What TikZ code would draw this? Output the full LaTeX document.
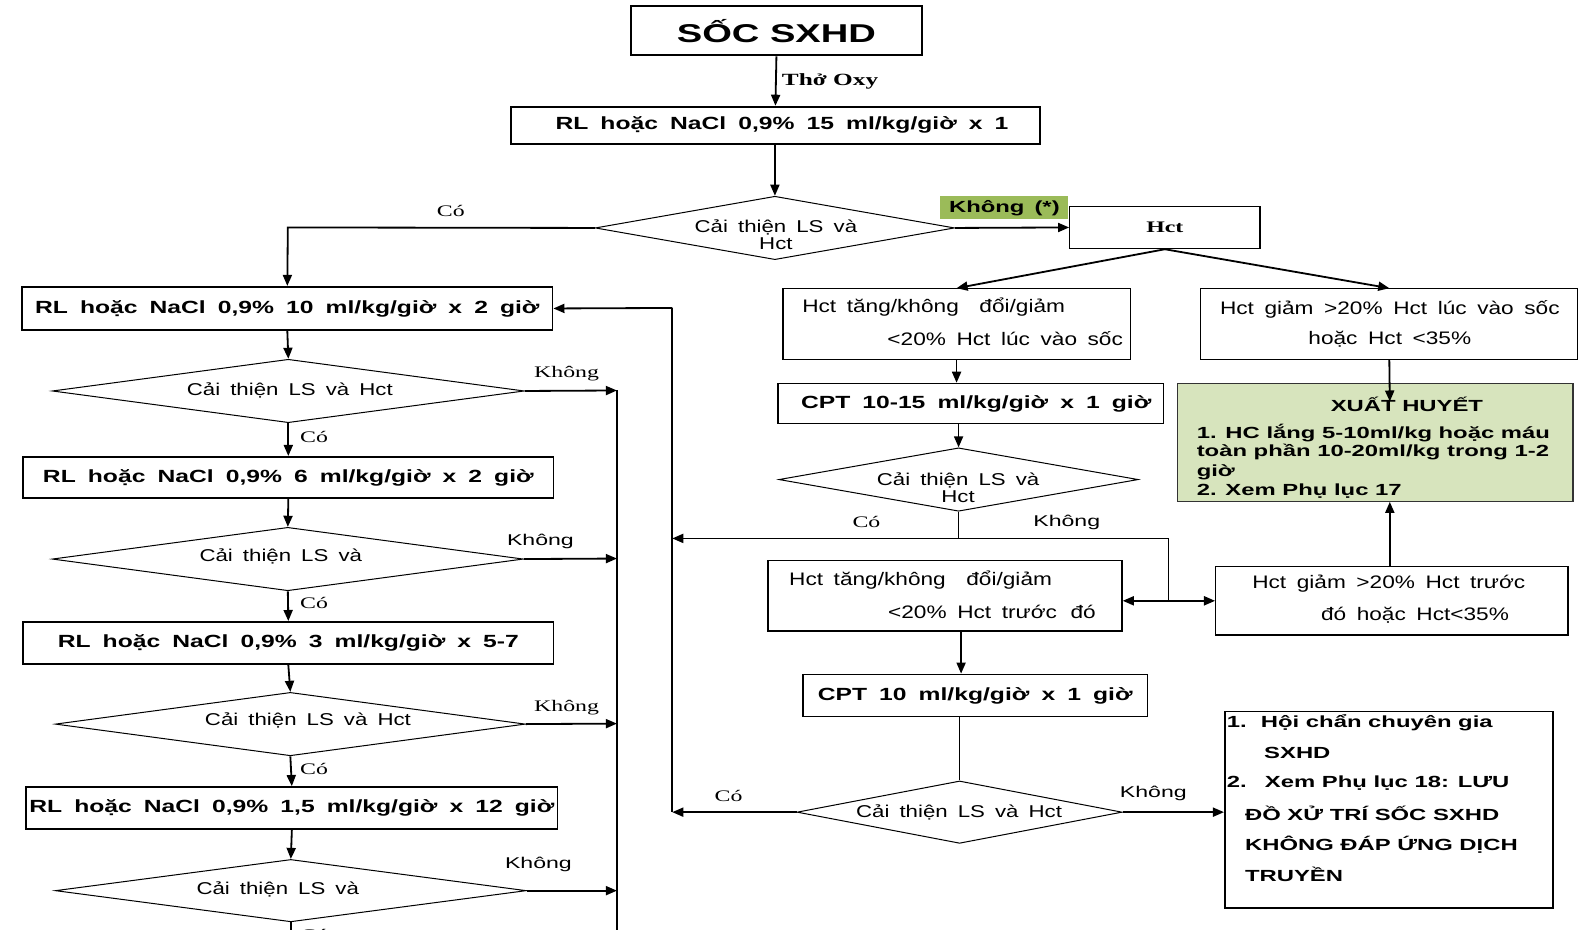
\documentclass[tikz,border=0pt]{standalone}
\usepackage{fontspec}
\setmainfont{Liberation Sans}
\newfontfamily\snn{Liberation Sans}[FakeStretch=1.48]
\newfontfamily\bxf{Liberation Sans}[FakeStretch=1.4]
\newfontfamily\dtf{Liberation Sans}[FakeStretch=1.3]
\newfontfamily\rgf{Liberation Sans}[FakeStretch=1.25]
\newfontfamily\sr{Liberation Serif}[FakeStretch=1.48]
\usetikzlibrary{shapes.geometric,arrows.meta}
\definecolor{lightgreen}{HTML}{D7E4BD}
\definecolor{midgreen}{HTML}{9BBB59}
\newcommand{\boxfont}{\bxf\bfseries\fontsize{17.5}{20}\selectfont\spaceskip=12pt plus 1pt minus 1pt\relax}
\newcommand{\diafont}{\dtf\fontsize{17}{17}\selectfont\spaceskip=10pt plus 1pt minus 1pt\relax}
\newcommand{\regfont}{\rgf\fontsize{18}{20}\selectfont\spaceskip=10.5pt plus 1pt minus 1pt\relax}
\tikzset{
  box/.style={draw, line width=1.8pt, inner sep=0pt, font=\boxfont},
  tbox/.style={draw, line width=1.3pt, inner sep=0pt},
  dia/.style={draw, diamond, line width=1pt, inner sep=0pt},
  dtxt/.style={font=\diafont, inner sep=0pt, align=center},
  rtxt/.style={font=\regfont, inner sep=0pt},
  lbl/.style={font=\sr\fontsize{16}{18}\selectfont, inner sep=0pt},
  slbl/.style={font=\snn\fontsize{15.5}{18}\selectfont, inner sep=0pt},
  ftxt/.style={font=\snn\bfseries\fontsize{16}{18}\selectfont, inner sep=0pt, anchor=west},
  arr/.style={line width=1.8pt, -{Triangle[length=11pt,width=9pt]}},
  ln/.style={line width=1.8pt},
}
\begin{document}
\begin{tikzpicture}[x=1pt,y=-1pt]
\useasboundingbox (0,0) rectangle (1568,924);

% ---------- top ----------
\node[box, minimum width=289, minimum height=49, font=\snn\bfseries\fontsize{25.6}{28}\selectfont] (soc) at (771.5,30.5) {SỐC SXHD};
\node[box, minimum width=525, minimum height=37] (rl15) at (770.5,124.5) {\hspace{13pt}RL hoặc NaCl 0,9\% 15 ml/kg/giờ x 1};
\begin{scope}
\clip (508,106) rectangle (1033,142);
\node[font=\boxfont, inner sep=0pt] (gio) at (580,151) {giờ};
\end{scope}
\draw[arr] (soc.south) -- (rl15.north) node[pos=0.5, right=5pt, font=\sr\bfseries\fontsize{17}{19}\selectfont, inner sep=0pt] (oxy) {Thở Oxy};

\node[dia, minimum width=357, minimum height=63] (d1) at (770,226.5) {};
\node[dtxt] (d1t) at (771,233) {Cải thiện LS và\\Hct};
\draw[arr] (rl15.south -| d1.north) -- (d1.north);

% ---------- left column ----------
\node[box, minimum width=527, minimum height=43] (rl10) at (285.5,306.5) {RL hoặc NaCl 0,9\% 10 ml/kg/giờ x 2 giờ};
\coordinate (c1) at (286,226);
\draw[arr] (d1.west) -- (c1) -- (rl10.north);
\node[lbl] (co0) at (448,210) {Có};

\node[dia, minimum width=469, minimum height=63] (L1) at (286.5,388.5) {};
\node[dtxt] (L1t) at (288,388) {Cải thiện LS và Hct};
\node[box, minimum width=527, minimum height=41] (rl6) at (286.5,474.5) {RL hoặc NaCl 0,9\% 6 ml/kg/giờ x 2 giờ};
\node[dia, minimum width=468, minimum height=63] (L2) at (286,555.5) {};
\node[dtxt] (L2t) at (279,553) {Cải thiện LS và};
\node[box, minimum width=527, minimum height=42] (rl3) at (286.5,639) {RL hoặc NaCl 0,9\% 3 ml/kg/giờ x 5-7};
\node[dia, minimum width=467, minimum height=63] (L3) at (288.5,719.5) {};
\node[dtxt] (L3t) at (306,716) {Cải thiện LS và Hct};
\node[box, minimum width=528, minimum height=42] (rl1) at (290,803) {RL hoặc NaCl 0,9\% 1,5 ml/kg/giờ x 12 giờ};
\node[dia, minimum width=468, minimum height=62] (L4) at (289,885) {};
\node[dtxt] (L4t) at (276,884) {Cải thiện LS và};

\draw[arr] (rl10.south) -- (L1.north);
\draw[arr] (L1.south) -- (rl6.north);
\draw[arr] (rl6.south) -- (L2.north);
\draw[arr] (L2.south) -- (rl3.north);
\draw[arr] (rl3.south) -- (L3.north);
\draw[arr] (L3.south) -- (rl1.north);
\draw[arr] (rl1.south) -- (L4.north);
\coordinate (L4b) at (289,930);
\draw[ln] (L4.south) -- (L4b);

\node[lbl, anchor=west] (co1) at (298,434) {Có};
\node[lbl, anchor=west] (co2) at (298,599) {Có};
\node[lbl, anchor=west] (co3) at (298,764) {Có};
\node[lbl, anchor=west] (co4) at (298,929) {Có};

\coordinate (v1) at (613,388);
\coordinate (v2) at (613,555);
\coordinate (v3) at (613,719);
\coordinate (v4) at (613,885);
\coordinate (vb) at (613,930);
\draw[arr] (L1.east) -- (v1);
\draw[arr] (L2.east) -- (v2);
\draw[arr] (L3.east) -- (v3);
\draw[arr] (L4.east) -- (v4);
\draw[ln] (v1) -- (vb);
\node[lbl] (k1) at (563,371) {Không};
\node[slbl] (k2) at (537,538) {Không};
\node[lbl] (k3) at (563,703) {Không};
\node[slbl] (k4) at (535,859) {Không};

% ---------- right part ----------
\node[tbox, minimum width=189, minimum height=42, font=\sr\bfseries\fontsize{16}{18}\selectfont] (hct) at (1157.5,226) {Hct};
\draw[arr] (d1.east) -- (hct.west);
\node[fill=midgreen, minimum width=127, minimum height=23, inner sep=0pt, font=\snn\bfseries\fontsize{16}{18}\selectfont] (kh0) at (998,206.5) {Không\hspace{10pt}(*)};

\node[tbox, minimum width=345, minimum height=70] (ba) at (950.5,322) {};
\node[rtxt, anchor=west] (ba1) at (797,305) {Hct tăng/không\hspace{10pt} đổi/giảm};
\node[rtxt, anchor=east] (ba2) at (1116,336) {<20\% Hct lúc vào sốc};
\node[tbox, minimum width=375, minimum height=70] (bb) at (1380.5,322) {};
\node[rtxt] (bb1) at (1381,307) {Hct giảm >20\% Hct lúc vào sốc};
\node[rtxt] (bb2) at (1381,337) {hoặc Hct <35\%};
\draw[arr] (hct.south) -- (ba.north);
\draw[arr] (hct.south) -- (bb.north);

\node[tbox, minimum width=383, minimum height=40, font=\boxfont] (cpt1) at (964.5,401) {\hspace{11pt}CPT 10-15 ml/kg/giờ x 1 giờ};
\draw[arr] (ba.south) -- (ba.south |- cpt1.north);

\node[tbox, fill=lightgreen, draw=black!80, minimum width=393, minimum height=117] (xh) at (1366.5,439.5) {};
\node[font=\snn\bfseries\fontsize{16}{18}\selectfont, inner sep=0pt] (xht) at (1398,402) {XUẤT HUYẾT};
\node[ftxt] (xh1) at (1189,430) {1. HC lắng 5-10ml/kg hoặc máu};
\node[ftxt] (xh2) at (1189,449) {toàn phần 10-20ml/kg trong 1-2};
\node[ftxt] (xh3) at (1189,469) {giờ};
\node[ftxt] (xh4) at (1189,488) {2. Xem Phụ lục 17};
\coordinate (xhin) at (1381,399);
\draw[arr] (bb.south) -- (xhin);

\node[dia, minimum width=357, minimum height=63] (d2) at (952.5,476.5) {};
\node[dtxt] (d2t) at (952,485) {Cải thiện LS và\\Hct};
\draw[arr] (cpt1.south -| d2.north) -- (d2.north);

\coordinate (j0) at (952.5,535);
\coordinate (j1) at (1161,535);
\coordinate (j2) at (1161,597);
\coordinate (lv1) at (668,306);
\coordinate (lv2) at (668,535);
\coordinate (lv3) at (668,807);
\coordinate (x955) at (955,0);
\draw[ln] (d2.south) -- (j0);
\draw[arr] (j1) -- (lv2);
\draw[ln] (j1) -- (j2);
\node[lbl] (co5) at (861,519) {Có};
\node[slbl] (k5) at (1060,519) {Không};

\node[tbox, minimum width=352, minimum height=70] (bc) at (939,592) {};
\node[rtxt, anchor=west] (bc1) at (784,576) {Hct tăng/không\hspace{10pt} đổi/giảm};
\node[rtxt, anchor=east] (bc2) at (1089,608) {<20\% Hct trước\hspace{3pt} đó};
\node[tbox, minimum width=350, minimum height=68] (bd) at (1383,597) {};
\node[rtxt] (bd1) at (1380,580) {Hct giảm >20\% Hct trước};
\node[rtxt] (bd2) at (1406,611) {đó hoặc Hct<35\%};
\draw[ln, {Triangle[length=11pt,width=9pt]}-{Triangle[length=11pt,width=9pt]}] (bc.east |- j2) -- (bd.west |- j2);
\draw[arr] (bd.north -| xhin) -- (xh.south -| xhin);

\node[tbox, minimum width=342, minimum height=42, font=\boxfont] (cpt2) at (969,691) {CPT 10 ml/kg/giờ x 1 giờ};
\draw[arr] (bc.south -| x955) -- (cpt2.north -| x955);

\node[dia, minimum width=323, minimum height=62] (d3) at (953.5,807) {};
\node[dtxt] (d3t) at (953,807) {Cải thiện LS và Hct};
\draw[line width=1pt] (cpt2.south -| d3.north) -- (d3.north);

\node[tbox, line width=1.6pt, minimum width=326, minimum height=195] (fin) at (1380,804.5) {};
\node[ftxt] (f1) at (1219,718) {1.\hspace{14pt}Hội chẩn chuyên gia};
\node[ftxt] (f2) at (1256,748) {SXHD};
\node[ftxt] (f3) at (1219,778) {2.\hspace{18pt}Xem Phụ lục 18: LƯU};
\node[ftxt] (f4) at (1237,808) {ĐỒ XỬ TRÍ SỐC SXHD};
\node[ftxt] (f5) at (1237,839) {KHÔNG ĐÁP ỨNG DỊCH};
\node[ftxt] (f6) at (1237,869) {TRUYỀN};

\draw[arr] (d3.west) -- (lv3);
\draw[arr] (d3.east) -- (fin.west |- d3.east);
\node[lbl] (co6) at (724,791) {Có};
\node[slbl] (k6) at (1146,788) {Không};

\draw[ln] (lv1) -- (lv3);
\draw[arr] (lv1) -- (rl10.east);
\end{tikzpicture}
\end{document}
